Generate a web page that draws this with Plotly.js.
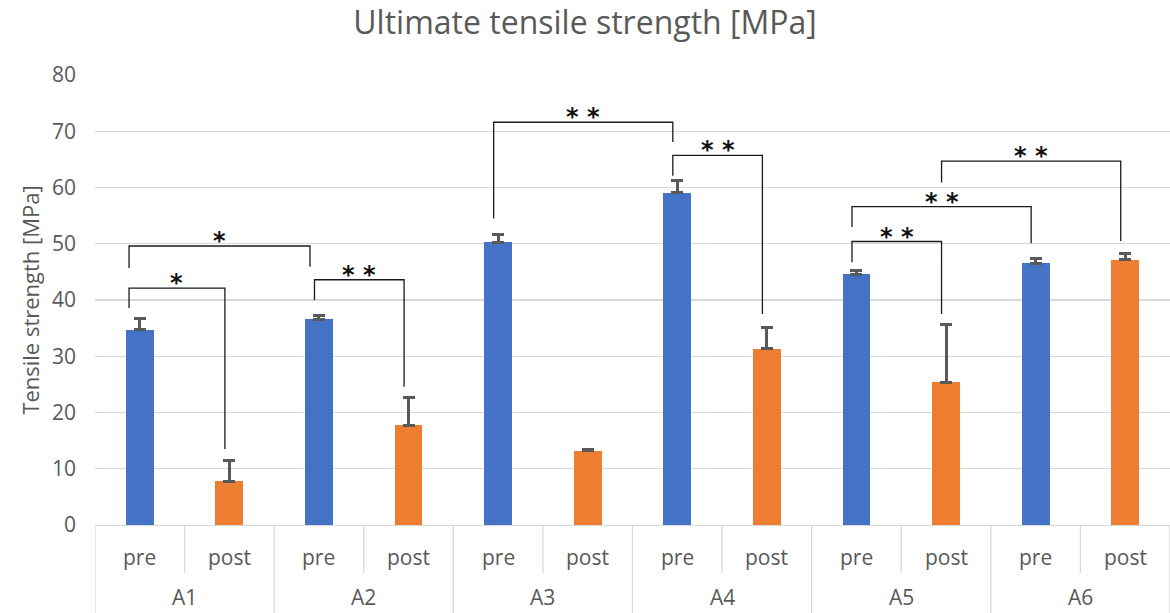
<!DOCTYPE html>
<html>
<head>
<meta charset="utf-8">
<script src="https://cdn.plot.ly/plotly-3.0.1.min.js"></script>
<style>html,body{margin:0;padding:0;background:#fff;}#chart{width:1170px;height:613px;}</style>
</head>
<body>
<div id="chart"></div>
<script>
// ---- data ----
const groups = ['A1', 'A2', 'A3', 'A4', 'A5', 'A6'];
const subLabels = ['pre', 'post'];
const preValues = [34.7, 36.6, 50.3, 59.1, 44.6, 46.5];
const preErrors = [2.0, 0.7, 1.4, 2.1, 0.7, 0.9];
const postValues = [7.8, 17.7, 13.2, 31.3, 25.4, 47.2];
const postErrors = [3.6, 4.9, 0.3, 3.8, 10.3, 1.1];
// significance brackets: bar index (0..11) of each end, bar height, leg ends, label
const bracketFrom = [0, 0, 2, 4, 6, 8, 8, 9];
const bracketTo = [1, 2, 3, 6, 7, 9, 10, 11];
const bracketTop = [42.1, 49.6, 43.6, 71.6, 65.7, 50.4, 56.6, 64.7];
const bracketFromEnd = [38.6, 45.7, 40.0, 54.5, 62.1, 46.7, 53.0, 60.9];
const bracketToEnd = [13.5, 45.9, 24.6, 68.1, 37.5, 37.5, 50.1, 50.5];
const bracketLabels = ['*', '*', '* *', '* *', '* *', '* *', '* *', '* *'];

// ---- build ----
const preX = groups.map((g, i) => 2 * i);
const postX = groups.map((g, i) => 2 * i + 1);
const FONT = 'Open Sans, Liberation Sans, sans-serif';
const TXT = '#595959';

const errStyle = {type: 'data', symmetric: false, arrayminus: groups.map(() => 0),
  color: '#595959', thickness: 3, width: 6};

const traces = [
  {type: 'bar', x: preX, y: preValues, width: 0.31, marker: {color: '#4472C4'},
   error_y: Object.assign({}, errStyle, {array: preErrors}), name: 'pre', hoverinfo: 'y'},
  {type: 'bar', x: postX, y: postValues, width: 0.31, marker: {color: '#ED7D31'},
   error_y: Object.assign({}, errStyle, {array: postErrors}), name: 'post', hoverinfo: 'y'}
];

const shapes = [];
const annotations = [];
const bLine = {color: '#1a1a1a', width: 1.3};
const legOffset = -0.05;
bracketFrom.forEach((a, k) => {
  const b = bracketTo[k];
  const xa = a + legOffset - (a < 2 ? 0.07 : 0), xb = b + legOffset - (b === 2 ? 0.05 : 0);
  shapes.push({type: 'path', xref: 'x', yref: 'y',
    path: `M ${xa},${bracketFromEnd[k]} L ${xa},${bracketTop[k]} L ${xb},${bracketTop[k]} L ${xb},${bracketToEnd[k]}`,
    line: bLine});
  annotations.push({xref: 'x', yref: 'y', x: (xa + xb) / 2, y: bracketTop[k], yanchor: 'middle',
    yshift: 5, text: '<b>' + bracketLabels[k] + '</b>', showarrow: false,
    font: {family: 'DejaVu Sans, sans-serif', size: 24, color: '#111'}});
});

// category table below the axis
const nBars = groups.length * subLabels.length;
for (let i = 0; i <= nBars; i++) {
  const isGroup = i % 2 === 0;
  shapes.push({type: 'line', xref: 'x', yref: 'paper', x0: i - 0.5, x1: i - 0.5,
    y0: 0, y1: isGroup ? -88 / 450 : -48 / 450, line: {color: '#D9D9D9', width: 1.3}});
}
groups.forEach((g, i) => {
  subLabels.forEach((s, j) => {
    annotations.push({xref: 'x', yref: 'paper', x: 2 * i + j, y: 0, yanchor: 'middle',
      yshift: -32, text: s, showarrow: false, font: {family: FONT, size: 21, color: TXT}});
  });
  annotations.push({xref: 'x', yref: 'paper', x: 2 * i + 0.5, y: 0, yanchor: 'bottom',
    yshift: -87, borderpad: 0, text: g, showarrow: false, font: {family: FONT, size: 21, color: TXT}});
});

const layout = {
  width: 1170, height: 613,
  margin: {l: 95, r: 0, t: 75, b: 88},
  paper_bgcolor: '#fff', plot_bgcolor: '#fff',
  showlegend: false,
  title: {text: 'Ultimate tensile strength [MPa]', x: 0.5, xref: 'container', xanchor: 'center',
    y: 1, yref: 'container', yanchor: 'top', pad: {t: 12},
    font: {family: FONT, size: 32, color: TXT}},
  xaxis: {range: [-0.5, nBars - 0.5], showticklabels: false, showgrid: false, zeroline: false,
    showline: true, linecolor: '#D9D9D9', linewidth: 1.3, fixedrange: true},
  yaxis: {range: [0, 80], dtick: 10, showgrid: true, gridcolor: '#D9D9D9', gridwidth: 1.3,
    zeroline: false, ticks: '', ticklabelstandoff: 18,
    tickfont: {family: FONT, size: 21, color: TXT},
    title: {text: 'Tensile strength [MPa]', standoff: 6, font: {family: FONT, size: 22, color: TXT}},
    fixedrange: true},
  shapes: shapes,
  annotations: annotations,
  bargap: 0
};

Plotly.newPlot('chart', traces, layout, {displayModeBar: false, staticPlot: true});
</script>
</body>
</html>
